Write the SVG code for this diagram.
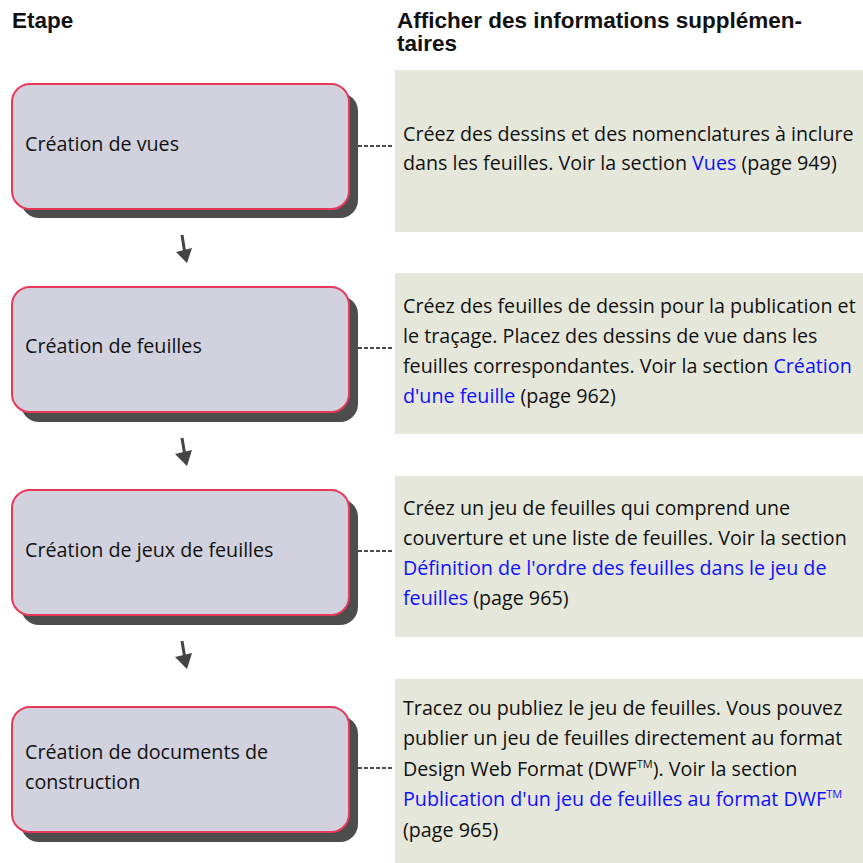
<svg xmlns="http://www.w3.org/2000/svg" width="863" height="863" viewBox="0 0 863 863">
<style>
.hdr{font-family:"Liberation Sans",Arial,sans-serif;font-weight:bold;font-size:22.5px;fill:#111}
.box{fill:#d2d2de;stroke:#e8385a;stroke-width:2}
.shadow{fill:#4d4d4d}
.panel{fill:#e5e7da}
.t{font-family:"Open Sans","Noto Sans",sans-serif;font-size:19.7px;fill:#111}
.lk{fill:#1010ff}
.dash{stroke:#111;stroke-width:1.5;stroke-dasharray:4,2;fill:none}
.arr{fill:#444;stroke:none}
.shaft{stroke:#444;stroke-width:3;fill:none}
</style>
<rect width="863" height="863" fill="#fff"/>
<g id="headers">
<text class="hdr" x="12" y="28">Etape</text>
<text class="hdr" x="397" y="28">Afficher des informations supplémen-</text>
<text class="hdr" x="397" y="51">taires</text>
</g>
<g id="panel1">
<rect class="panel" x="395" y="70" width="468" height="162"/>
<text class="t" x="403" y="141">Créez des dessins et des nomenclatures à inclure</text>
<text class="t" x="403" y="170">dans les feuilles. Voir la section <tspan class="lk">Vues</tspan> (page 949)</text>
</g>
<g id="panel2">
<rect class="panel" x="395" y="273" width="468" height="161"/>
<text class="t" x="403" y="313">Créez des feuilles de dessin pour la publication et</text>
<text class="t" x="403" y="343">le traçage. Placez des dessins de vue dans les</text>
<text class="t" x="403" y="373">feuilles correspondantes. Voir la section <tspan class="lk">Création</tspan></text>
<text class="t" x="403" y="403"><tspan class="lk">d'une feuille</tspan> (page 962)</text>
</g>
<g id="panel3">
<rect class="panel" x="395" y="476" width="468" height="161"/>
<text class="t" x="403" y="515">Créez un jeu de feuilles qui comprend une</text>
<text class="t" x="403" y="545">couverture et une liste de feuilles. Voir la section</text>
<text class="t lk" x="403" y="575">Définition de l'ordre des feuilles dans le jeu de</text>
<text class="t" x="403" y="605"><tspan class="lk">feuilles</tspan> (page 965)</text>
</g>
<g id="panel4">
<rect class="panel" x="395" y="679" width="468" height="184"/>
<text class="t" x="403" y="715">Tracez ou publiez le jeu de feuilles. Vous pouvez</text>
<text class="t" x="403" y="745">publier un jeu de feuilles directement au format</text>
<text class="t" x="403" y="776">Design Web Format (DWF<tspan font-size="11" dy="-8">TM</tspan><tspan dy="8">). Voir la section</tspan></text>
<text class="t lk" x="403" y="806">Publication d'un jeu de feuilles au format DWF<tspan font-size="11" dy="-8">TM</tspan></text>
<text class="t" x="403" y="837">(page 965)</text>
</g>
<g id="step1">
<rect class="shadow" x="21" y="93" width="337" height="125" rx="18"/>
<rect class="box" x="12" y="84" width="337" height="125" rx="18"/>
<text class="t" x="25" y="151">Création de vues</text>
</g>
<g id="step2">
<rect class="shadow" x="21" y="296" width="337" height="126" rx="18"/>
<rect class="box" x="12" y="287" width="337" height="125" rx="18"/>
<text class="t" x="25" y="353">Création de feuilles</text>
</g>
<g id="step3">
<rect class="shadow" x="21" y="499" width="337" height="126" rx="18"/>
<rect class="box" x="12" y="490" width="337" height="125" rx="18"/>
<text class="t" x="25" y="557">Création de jeux de feuilles</text>
</g>
<g id="step4">
<rect class="shadow" x="21" y="716" width="337" height="126" rx="18"/>
<rect class="box" x="12" y="707" width="337" height="125" rx="18"/>
<text class="t" x="25" y="759">Création de documents de</text>
<text class="t" x="25" y="789">construction</text>
</g>
<g id="connectors">
<path class="dash" d="M358 146H393M358 348H393M358 551H393M358 768H393"/>
<path class="shaft" d="M182 235L185 254M182 438L185 456M182 641L185 659"/>
<path class="arr" d="M176 252L192 248L187 263ZM175 454L192 450L187 466ZM175 657L192 653L187 669Z"/>
</g>
</svg>
